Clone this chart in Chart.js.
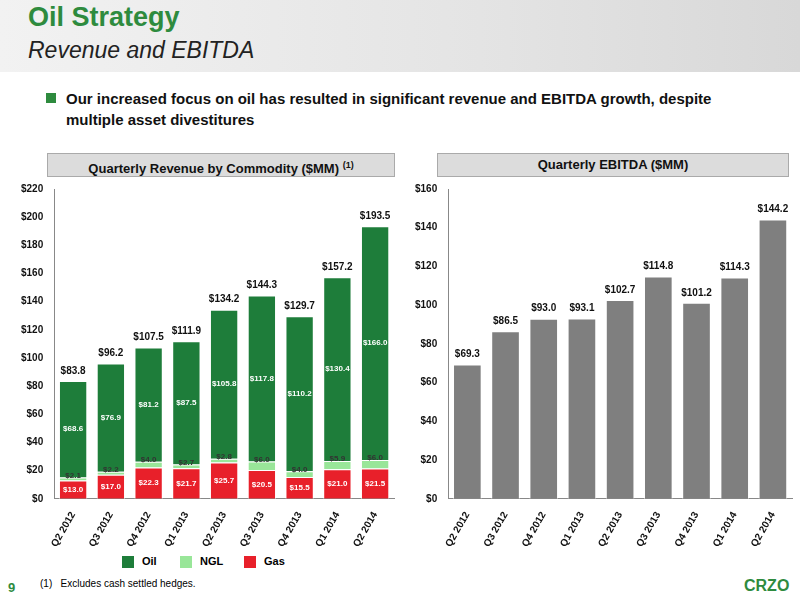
<!DOCTYPE html><html><head><meta charset="utf-8">
<script src="https://cdn.jsdelivr.net/npm/chart.js@4/dist/chart.umd.min.js"></script>
<style>
body{margin:0;width:800px;height:600px;position:relative;font-family:Calibri,"Liberation Sans Narrow","Open Sans",sans-serif;background:#fff;overflow:hidden}
#hdr{position:absolute;left:0;top:0;width:800px;height:72px;background:linear-gradient(90deg,#f2f2f2,#e4e4e4 60%,#d8d8d8)}
.t1{position:absolute;left:28px;top:2px;font:bold 27px "Liberation Sans",sans-serif;color:#2e8b3e}
.t2{position:absolute;left:28px;top:37px;font:italic 23px "Liberation Sans",sans-serif;color:#222}
.bul{position:absolute;left:46px;top:93px;width:10px;height:10px;background:#2e8b3e}
.btxt{position:absolute;left:66px;top:88px;width:700px;font:bold 15px "Liberation Sans Narrow","Liberation Sans",sans-serif;color:#111;line-height:21px}
.ph{position:absolute;top:153px;height:22px;background:#dcdcdc;border:1px solid #aaa;font:bold 13px "Liberation Sans Narrow","Liberation Sans",sans-serif;text-align:center;line-height:22px;color:#111}
.leg{position:absolute;top:555px;font:bold 11px "Liberation Sans",sans-serif}
.leg span{display:inline-block;width:12px;height:12px;vertical-align:middle;margin-right:8px}
</style></head><body>
<div id="hdr"></div>
<div class="t1">Oil Strategy</div><div class="t2">Revenue and EBITDA</div>
<div class="bul"></div><div class="btxt">Our increased focus on oil has resulted in significant revenue and EBITDA growth, despite multiple asset divestitures</div>
<div class="ph" style="left:47px;width:346px">Quarterly Revenue by Commodity ($MM) <sup style="font-size:9px">(1)</sup></div>
<div class="ph" style="left:437px;width:350px">Quarterly EBITDA ($MM)</div>
<div style="position:absolute;left:0;top:180px;width:400px;height:372px"><canvas id="c1"></canvas></div>
<div style="position:absolute;left:400px;top:180px;width:400px;height:372px"><canvas id="c2"></canvas></div>
<div class="leg" style="left:122px"><span style="background:#1e7d3a"></span>Oil</div>
<div class="leg" style="left:180px"><span style="background:#99e699"></span>NGL</div>
<div class="leg" style="left:244px"><span style="background:#e8202a"></span>Gas</div>
<div style="position:absolute;left:40px;top:578px;font:10px 'Liberation Sans',sans-serif">(1)&nbsp;&nbsp;&nbsp;Excludes cash settled hedges.</div>
<div style="position:absolute;left:8px;top:580px;font:bold 13px 'Liberation Sans',sans-serif;color:#2e8b3e">9</div>
<div style="position:absolute;left:744px;top:577px;font:bold 16px 'Liberation Sans',sans-serif;color:#2e8b3e">CRZO</div>
<script>
const categories=["Q2 2012","Q3 2012","Q4 2012","Q1 2013","Q2 2013","Q3 2013","Q4 2013","Q1 2014","Q2 2014"];
const gas=[13.0,17.0,22.3,21.7,25.7,20.5,15.5,21.0,21.5];
const ngl=[2.1,2.2,4.0,2.7,2.8,6.0,4.0,5.9,6.0];
const oil=[68.6,76.9,81.2,87.5,105.8,117.8,110.2,130.4,166.0];
const totals=[83.8,96.2,107.5,111.9,134.2,144.3,129.7,157.2,193.5];
const ebitda=[69.3,86.5,93.0,93.1,102.7,114.8,101.2,114.3,144.2];
const lbl={id:'lbl',afterDatasetsDraw(c){const x=c.ctx;x.save();x.textAlign='center';x.textBaseline='middle';
c.data.datasets.forEach((d,i)=>{const m=c.getDatasetMeta(i);m.data.forEach((b,j)=>{
 const v='$'+d.data[j].toFixed(1);
 if(d.kind==='ebitda'){x.font='bold 10px "Liberation Sans Narrow",sans-serif';x.fillStyle='#111';x.fillText(v,b.x,b.y-10);}
 else{x.font='bold 8px "Liberation Sans Narrow",sans-serif';x.fillStyle=d.kind==='ngl'?'#333':'#fff';
  const y=d.kind==='ngl'?b.y-2:(b.y+b.base)/2;x.fillText(v,b.x,y);
  if(d.kind==='oil'){x.font='bold 10px "Liberation Sans Narrow",sans-serif';x.fillStyle='#111';x.fillText('$'+totals[j].toFixed(1),b.x,b.y-10);}}
});});x.restore();}};
const yt=v=>'$'+v;
function sc(max,step){return{x:{stacked:true,grid:{display:false},ticks:{maxRotation:60,minRotation:60,color:'#111',font:{weight:'bold',size:10}},border:{color:'#888'}},
 y:{stacked:true,min:0,max:max,ticks:{stepSize:step,callback:yt,color:'#111',font:{weight:'bold',size:10}},grid:{display:false},border:{color:'#888'}}};}
new Chart(c1,{type:'bar',data:{labels:categories,datasets:[
 {kind:'gas',data:gas,backgroundColor:'#e8202a',borderColor:'#fff',borderWidth:1,barPercentage:0.75,categoryPercentage:1},
 {kind:'ngl',data:ngl,backgroundColor:'#99e699',borderColor:'#fff',borderWidth:1,barPercentage:0.75,categoryPercentage:1},
 {kind:'oil',data:oil,backgroundColor:'#1e7d3a',borderColor:'#fff',borderWidth:1,barPercentage:0.75,categoryPercentage:1}]},
 options:{responsive:true,maintainAspectRatio:false,animation:false,layout:{padding:{left:18,right:6,top:6}},plugins:{legend:{display:false},tooltip:{enabled:false}},scales:sc(220,20)},plugins:[lbl]});
new Chart(c2,{type:'bar',data:{labels:categories,datasets:[
 {kind:'ebitda',data:ebitda,backgroundColor:'#7f7f7f',borderColor:'#fff',borderWidth:1,barPercentage:0.75,categoryPercentage:1}]},
 options:{responsive:true,maintainAspectRatio:false,animation:false,layout:{padding:{left:12,right:8,top:6}},plugins:{legend:{display:false},tooltip:{enabled:false}},scales:sc(160,20)},plugins:[lbl]});
</script></body></html>
